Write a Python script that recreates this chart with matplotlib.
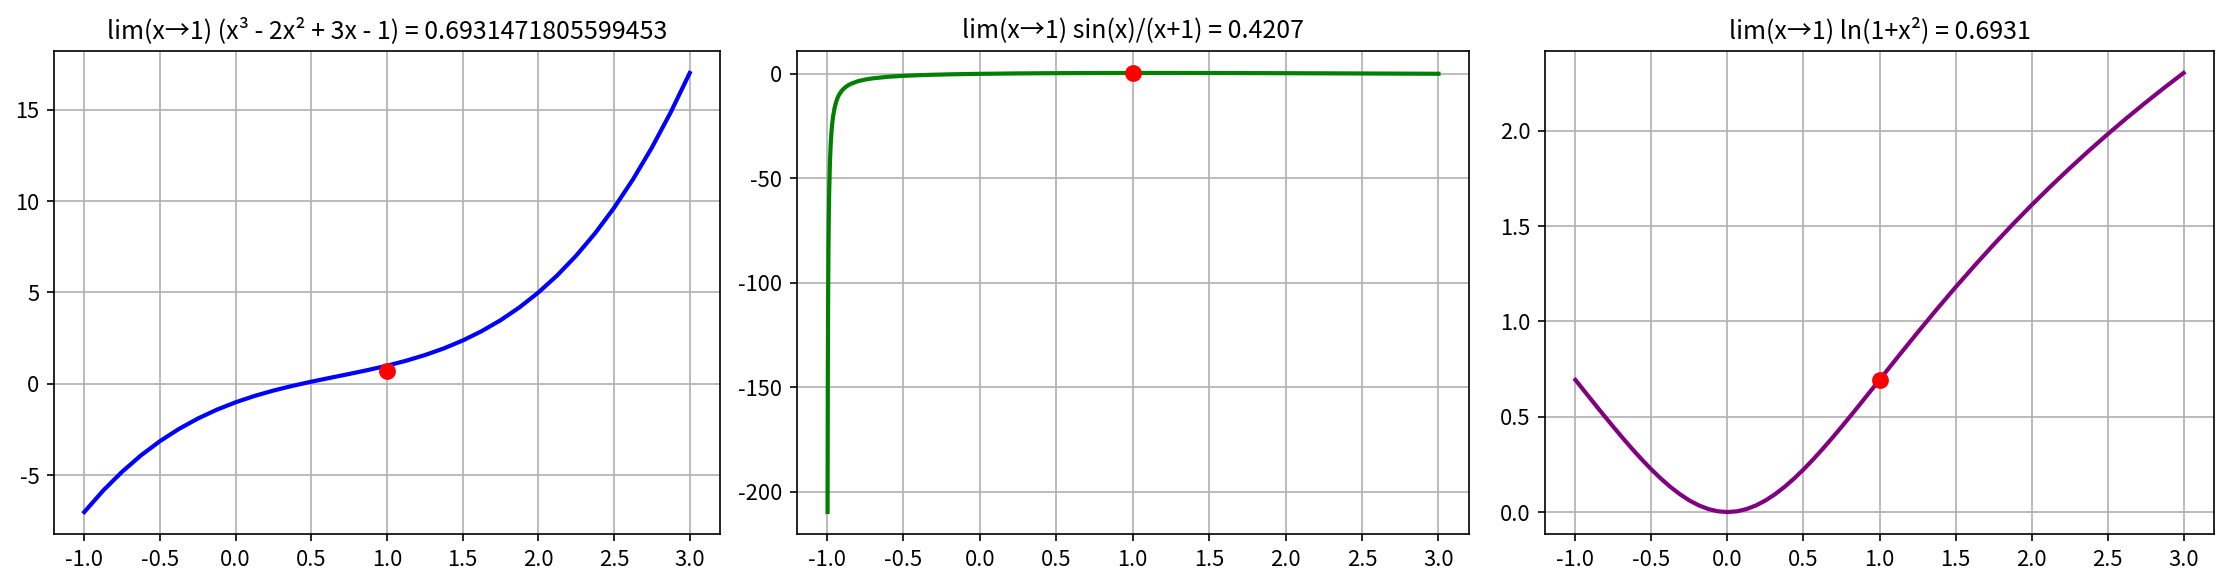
import matplotlib
matplotlib.use("Agg")
import matplotlib.pyplot as plt

plt.rcParams['font.family'] = ['Noto Sans CJK SC', 'DejaVu Sans']
plt.rcParams['axes.unicode_minus'] = False

# Curve 1: x^3 - 2x^2 + 3x - 1
x1 = [-1.0, -0.875, -0.75, -0.625, -0.5, -0.375, -0.25, -0.125, 0.0, 0.125, 0.25, 0.375,
      0.5, 0.625, 0.75, 0.875, 1.0, 1.125, 1.25, 1.375, 1.5, 1.625, 1.75, 1.875, 2.0,
      2.125, 2.25, 2.375, 2.5, 2.625, 2.75, 2.875, 3.0]
y1 = [-7.0, -5.826, -4.797, -3.900, -3.125, -2.459, -1.891, -1.408, -1.0, -0.654, -0.359, -0.104,
      0.125, 0.338, 0.547, 0.764, 1.0, 1.268, 1.578, 1.943, 2.375, 2.885, 3.484, 4.186, 5.0,
      5.939, 7.016, 8.240, 9.625, 11.182, 12.922, 14.857, 17.0]

# Curve 2: sin(x)/(x+1)
x2 = [-0.996, -0.994, -0.992, -0.99, -0.988, -0.985, -0.98, -0.975, -0.97, -0.965, -0.96, -0.95,
      -0.94, -0.93, -0.92, -0.9, -0.875, -0.85, -0.8, -0.75, -0.7, -0.6, -0.5, -0.4, -0.3,
      -0.2, -0.1, 0.0, 0.25, 0.5, 0.75, 1.0, 1.25, 1.5, 1.75, 2.0, 2.25, 2.5, 2.75, 3.0]
y2 = [-209.8, -139.8, -104.6, -83.6, -69.6, -55.5, -41.5, -33.1, -27.5, -23.5, -20.5, -16.3,
      -13.5, -11.45, -9.9, -7.83, -6.15, -5.01, -3.59, -2.73, -2.15, -1.41, -0.959, -0.649, -0.422,
      -0.248, -0.111, 0.0, 0.198, 0.320, 0.389, 0.421, 0.422, 0.399, 0.358, 0.303, 0.239, 0.171, 0.102, 0.035]

# Curve 3: ln(1+x^2)
x3 = [-1.0, -0.9375, -0.875, -0.8125, -0.75, -0.6875, -0.625, -0.5625, -0.5, -0.4375, -0.375,
      -0.3125, -0.25, -0.1875, -0.125, -0.0625, 0.0, 0.0625, 0.125, 0.1875, 0.25, 0.3125, 0.375,
      0.4375, 0.5, 0.5625, 0.625, 0.6875, 0.75, 0.8125, 0.875, 0.9375, 1.0, 1.125, 1.25, 1.375,
      1.5, 1.625, 1.75, 1.875, 2.0, 2.125, 2.25, 2.375, 2.5, 2.625, 2.75, 2.875, 3.0]
y3 = [0.6931, 0.6307, 0.5685, 0.5069, 0.4463, 0.3871, 0.3298, 0.2749, 0.2231, 0.1751, 0.1316,
      0.0932, 0.0606, 0.0346, 0.0155, 0.0039, 0.0, 0.0039, 0.0155, 0.0346, 0.0606, 0.0932, 0.1316,
      0.1751, 0.2231, 0.2749, 0.3298, 0.3871, 0.4463, 0.5069, 0.5685, 0.6307, 0.6931, 0.8179, 0.9410, 1.0615,
      1.1787, 1.2921, 1.4018, 1.5076, 1.6094, 1.7076, 1.8021, 1.8932, 1.9810, 2.0657, 2.1474, 2.2263, 2.3026]

titles = ["lim(x→1) (x³ - 2x² + 3x - 1) = 0.6931471805599453",
          "lim(x→1) sin(x)/(x+1) = 0.4207",
          "lim(x→1) ln(1+x²) = 0.6931"]
point_x = [1.0, 1.0, 1.0]
point_y = [0.6931, 0.4207, 0.6931]
colors = ['blue', 'green', 'purple']

W, H = 2223, 585
fig, axes = plt.subplots(1, 3, figsize=(W / 150, H / 150), dpi=150)
lefts = [54, 797, 1545]
rights = [720, 1469, 2214]
top_px, bot_px = 51, 534
for ax, l, r in zip(axes, lefts, rights):
    ax.set_position([l / W, 1 - bot_px / H, (r - l) / W, (bot_px - top_px) / H])

for ax, xs, ys, t, px, py, c in zip(axes, [x1, x2, x3], [y1, y2, y3], titles, point_x, point_y, colors):
    ax.plot(xs, ys, color=c, linewidth=2)
    ax.scatter([px], [py], color='red', s=50, zorder=5)
    ax.set_title(t, fontsize=12)
    ax.grid(True)
    ax.set_xticks([-1.0, -0.5, 0.0, 0.5, 1.0, 1.5, 2.0, 2.5, 3.0])
    ax.tick_params(labelsize=10.5)

fig.savefig("out.png", dpi=150)
